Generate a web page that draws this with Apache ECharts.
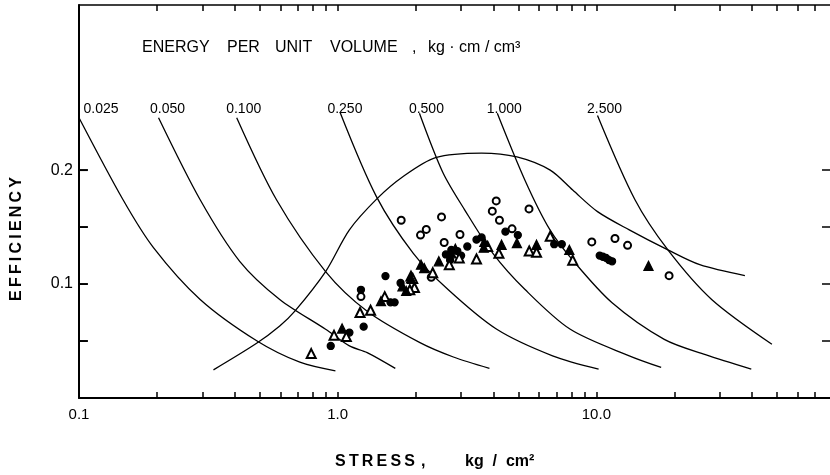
<!DOCTYPE html>
<html lang="en">
<head>
    <meta charset="UTF-8">
    <title>Efficiency vs stress</title>
    <script src="https://cdn.jsdelivr.net/npm/echarts@6/dist/echarts.min.js"></script>
    <style>html, body { margin: 0; padding: 0; background: #fff; }</style>
</head>
<body>
<div id="main" style="width: 830px;height:475px;"></div>
<script type="text/javascript">
    // axis ticks and labels
    var xTickValues = [0.1, 0.2, 0.3, 0.4, 0.5, 0.6, 0.7, 0.8, 0.9,
        1, 2, 3, 4, 5, 6, 7, 8, 9, 10, 20, 30, 40, 50, 60, 70];
    var yTickValues = [0.05, 0.1, 0.15, 0.2];
    var xLabelValues = [0.1, 1, 10];
    var yLabelValues = [0.1, 0.2];

    // constant energy-per-unit-volume curves, [stress, efficiency]
    var energyLabels = ['0.025', '0.050', '0.100', '0.250', '0.500', '1.000', '2.500'];
    var curve025 = [[0.1, 0.246], [0.148, 0.174], [0.194, 0.132], [0.294, 0.0865], [0.488, 0.050], [0.714, 0.0314], [0.98, 0.0238]];
    var curve050 = [[0.203, 0.246], [0.294, 0.174], [0.418, 0.120], [0.597, 0.0865], [0.898, 0.0603], [1.11, 0.0457], [1.30, 0.0399], [1.67, 0.026]];
    var curve100 = [[0.407, 0.246], [0.58, 0.174], [0.898, 0.111], [1.30, 0.0762], [2.08, 0.0486], [2.8, 0.036], [3.86, 0.026]];
    var curve250 = [[1.02, 0.251], [1.41, 0.177], [1.96, 0.127], [2.67, 0.0952], [4.12, 0.0603], [6.77, 0.037], [10.2, 0.0253]];
    var curve500 = [[2.07, 0.250], [2.55, 0.198], [3.1, 0.165], [3.98, 0.127], [5.3, 0.0952], [7.93, 0.0603], [13.4, 0.037], [17.8, 0.0268]];
    var curve1000 = [[4.14, 0.250], [5.3, 0.191], [6.6, 0.148], [8.1, 0.121], [11.5, 0.0836], [18.3, 0.0515], [26.4, 0.038], [39.7, 0.0253]];
    var curve2500 = [[10.1, 0.248], [14.1, 0.174], [18.9, 0.130], [27.9, 0.0865], [47.7, 0.0472]];

    // upper envelope curve
    var envelope = [[0.331, 0.0247], [0.486, 0.048], [0.597, 0.0632], [0.683, 0.0762], [0.898, 0.111], [1.11, 0.1476],
        [1.42, 0.175], [1.78, 0.194], [2.39, 0.211], [3.6, 0.215], [4.93, 0.2116], [6.63, 0.200], [8.1, 0.1825],
        [10.1, 0.1636], [13.4, 0.1476], [18.9, 0.130], [25.1, 0.117], [37.5, 0.1074]];

    // measured points
    var openTriangles = [[0.79, 0.039], [0.968, 0.055], [1.08, 0.054], [1.22, 0.075], [1.34, 0.077], [1.52, 0.089],
        [1.92, 0.107], [1.98, 0.097], [1.90, 0.095], [1.95, 0.105], [2.33, 0.110], [2.70, 0.117], [2.95, 0.123],
        [3.44, 0.122], [3.8, 0.133], [4.2, 0.127], [5.5, 0.129], [5.87, 0.128], [6.63, 0.142], [8.1, 0.121]];
    var openCircles = [[1.23, 0.089], [1.76, 0.156], [2.09, 0.143], [2.20, 0.148], [2.52, 0.159], [2.58, 0.1365],
        [2.97, 0.1435], [2.30, 0.106], [3.96, 0.164], [4.10, 0.173], [4.22, 0.156], [4.72, 0.1485], [5.49, 0.166],
        [9.6, 0.137], [11.8, 0.140], [13.2, 0.134], [19.1, 0.1074]];
    var filledCircles = [[0.94, 0.0457], [1.11, 0.0574], [1.26, 0.0626], [1.23, 0.095], [1.53, 0.107], [1.60, 0.084],
        [1.66, 0.084], [1.75, 0.101], [2.62, 0.126], [2.72, 0.121], [2.75, 0.130], [2.9, 0.129], [3.0, 0.125],
        [3.17, 0.133], [3.44, 0.139], [3.6, 0.141], [4.45, 0.146], [4.97, 0.143], [6.87, 0.135], [7.35, 0.135],
        [10.3, 0.125], [10.6, 0.124], [10.9, 0.123], [11.2, 0.121], [11.5, 0.120]];
    var filledTriangles = [[1.04, 0.061], [1.47, 0.085], [1.84, 0.094], [1.78, 0.098], [1.92, 0.105], [2.1, 0.117],
        [2.16, 0.114], [2.46, 0.120], [2.75, 0.127], [2.85, 0.131], [3.67, 0.132], [3.69, 0.137], [4.3, 0.1345],
        [4.93, 0.136], [5.87, 0.1345], [7.86, 0.130], [15.9, 0.116]];

    var X_MIN = 0.1, X_MAX = 80, Y_MIN = 0, Y_MAX = 0.345;
    var LABEL_ROW = 0.254;   // efficiency level of the curve labels
    var FONT = 'Liberation Sans';
    var THIN = '\u2009';
    var Y_TICK_LEN = 9;

    var myChart = echarts.init(document.getElementById('main'));

    var labelShift = [22, 9, 7, 5, 7, 7, 7];
    var energyCurves = [curve025, curve050, curve100, curve250, curve500, curve1000, curve2500];

    var series = energyCurves.map(function (pts, i) {
        return {
            name: energyLabels[i],
            type: 'line',
            data: pts,
            showSymbol: false,
            smooth: 0.3,
            lineStyle: {color: '#000', width: 1.3},
            z: 2,
            markPoint: {
                symbol: 'circle',
                symbolSize: 0,
                silent: true,
                label: {
                    show: true, position: 'inside', offset: [labelShift[i], 0],
                    formatter: energyLabels[i], color: '#000', fontFamily: FONT, fontSize: 14
                },
                data: [{coord: [pts[0][0], LABEL_ROW]}]
            }
        };
    });

    series.push({
        name: 'envelope',
        type: 'line',
        data: envelope,
        showSymbol: false,
        smooth: 0.3,
        lineStyle: {color: '#000', width: 1.3},
        z: 2
    });

    function scatter(name, data, symbol, size) {
        return {
            name: name,
            type: 'scatter',
            data: data,
            symbol: symbol,
            symbolSize: size,
            itemStyle: {color: '#000', borderColor: '#000', borderWidth: 1.3, opacity: 1},
            z: 3
        };
    }
    series.push(scatter('open circles', openCircles, 'emptyCircle', 7));
    series.push(scatter('filled circles', filledCircles, 'circle', 7));
    series.push(scatter('open triangles', openTriangles, 'emptyTriangle', 9));
    series.push(scatter('filled triangles', filledTriangles, 'triangle', 9));

    // left-edge ticks: a line series per tick value, from the frame a few stress units inward
    var leftTickEnd = 0.108;   // stress value a short way inside the left frame
    yTickValues.forEach(function (v) {
        series.push({
            type: 'line',
            silent: true,
            clip: false,
            data: [[X_MIN, v], [leftTickEnd, v]],
            showSymbol: false,
            lineStyle: {color: '#000', width: 1.8},
            z: 7
        });
    });

    function xAxisCfg(pos, showLabels) {
        return {
            type: 'log',
            logBase: 10,
            position: pos,
            min: X_MIN,
            max: X_MAX,
            z: 6,
            axisLine: {show: true, onZero: false, lineStyle: {color: '#000', width: pos === 'bottom' ? 2 : 1.5}},
            axisTick: {show: true, inside: true, length: 6, customValues: xTickValues,
                lineStyle: {color: '#000', width: 1.5}},
            minorTick: {show: false},
            splitLine: {show: false},
            axisLabel: {
                show: showLabels, customValues: xLabelValues,
                margin: 9, color: '#000', fontFamily: FONT, fontSize: 15,
                formatter: function (v) { return v.toFixed(1); }
            }
        };
    }

    function txt(s, x, y, extra) {
        var style = {text: s, x: x, y: y, fill: '#000', font: '16px "' + FONT + '"',
            textAlign: 'left', textVerticalAlign: 'middle'};
        for (var k in extra) style[k] = extra[k];
        return {type: 'text', silent: true, style: style};
    }
    var bold = {font: 'bold 16px "' + FONT + '"'};

    var option = {
        animation: false,
        backgroundColor: '#fff',
        grid: {left: 79, right: -2, top: 5, bottom: 77},
        xAxis: [xAxisCfg('bottom', true), xAxisCfg('top', false)],
        yAxis: [
            {
                type: 'value',
                position: 'left',
                min: Y_MIN,
                max: Y_MAX,
                interval: 0.05,
                z: 6,
                axisLine: {show: true, onZero: false, lineStyle: {color: '#000', width: 2}},
                axisTick: {show: true, inside: true, length: Y_TICK_LEN, customValues: yTickValues,
                    lineStyle: {color: '#000', width: 1.5}},
                splitLine: {show: false},
                axisLabel: {
                    customValues: yLabelValues,
                    margin: 6, color: '#000', fontFamily: FONT, fontSize: 16,
                    formatter: function (v) { return v.toFixed(1); }
                }
            },
            {
                type: 'value',
                position: 'right',
                min: Y_MIN,
                max: Y_MAX,
                interval: 0.05,
                z: 6,
                axisLine: {show: false, onZero: false},
                axisTick: {show: true, inside: true, length: 8, customValues: yTickValues,
                    lineStyle: {color: '#000', width: 1.5}},
                splitLine: {show: false},
                axisLabel: {show: false}
            }
        ],
        graphic: [
            txt('ENERGY', 142, 48),
            txt('PER', 227, 48),
            txt('UNIT', 275, 48),
            txt('VOLUME', 330, 48),
            txt(',', 412, 48),
            txt('kg \u00b7 cm / cm\u00b3', 428, 48),
            txt(['S', 'T', 'R', 'E', 'S', 'S'].join(THIN), 335, 462, bold),
            txt(',', 421, 462, bold),
            txt('kg  /  cm\u00b2', 465, 462, bold),
            {
                type: 'text', silent: true, x: 17, y: 239, rotation: Math.PI / 2,
                style: {text: ['E', 'F', 'F', 'I', 'C', 'I', 'E', 'N', 'C', 'Y'].join(THIN), fill: '#000',
                    font: 'bold 16px "' + FONT + '"', textAlign: 'center', textVerticalAlign: 'middle'}
            }
        ],
        series: series
    };

    myChart.setOption(option);
</script>
</body>
</html>
